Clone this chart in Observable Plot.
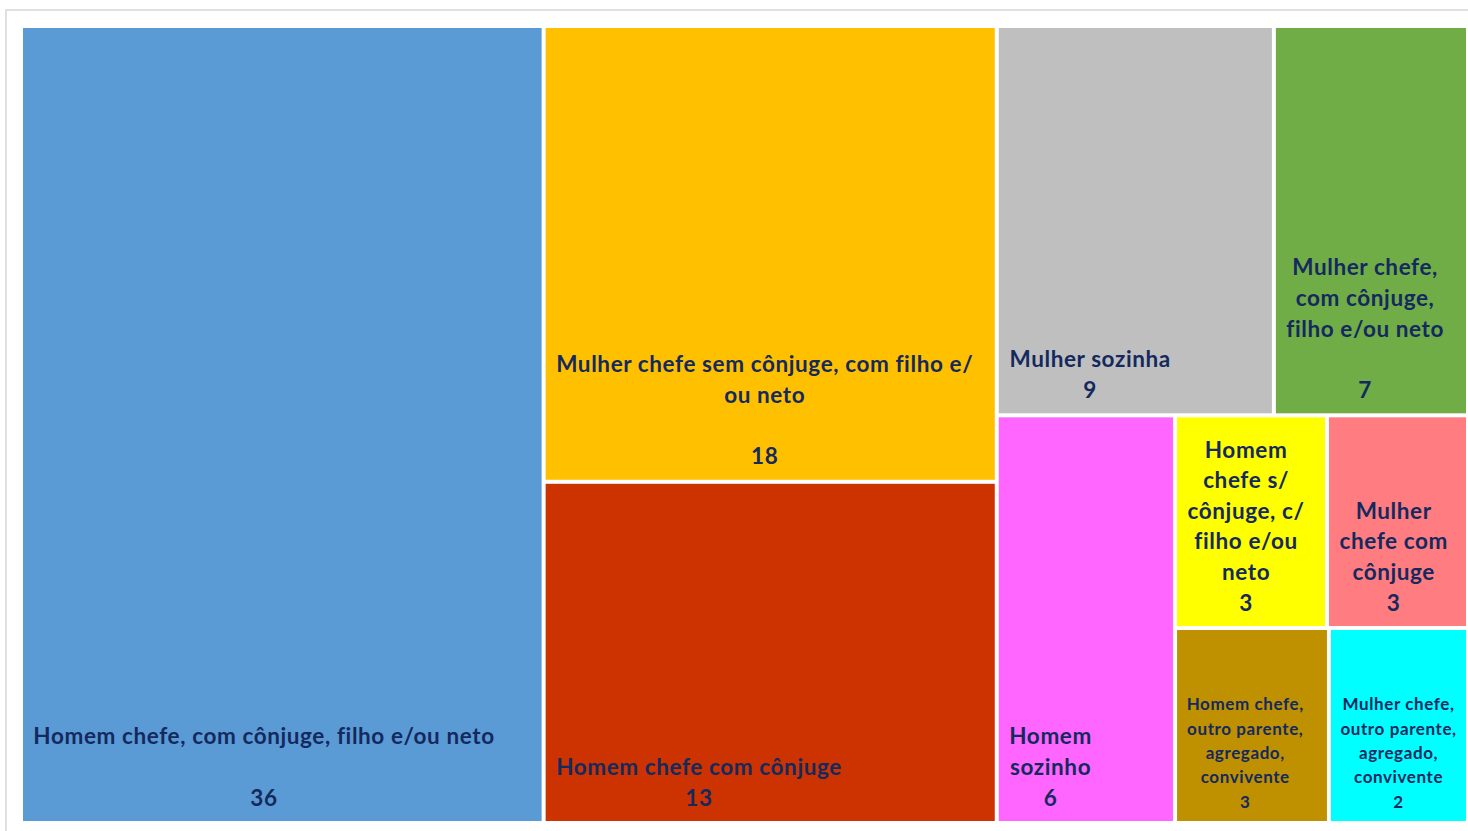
<!DOCTYPE html>
<html><head><meta charset="utf-8">
<script src="https://cdn.jsdelivr.net/npm/d3@7"></script>
<script src="https://cdn.jsdelivr.net/npm/@observablehq/plot@0.6"></script>
<style>
html,body{margin:0;padding:0;background:#fff;overflow:hidden;}
#wrap{position:relative;width:1468px;height:831px;overflow:hidden;}
#border{position:absolute;left:5px;top:9px;width:1500px;height:900px;border-top:2px solid #e0e0e0;border-left:2px solid #e0e0e0;}
#chart{position:absolute;left:0;top:0;}
</style></head><body>
<div id="wrap"><div id="border"></div><div id="chart"></div></div>
<script>
// ---- data ----
const categories = [
  "Homem chefe, com cônjuge, filho e/ou neto",
  "Mulher chefe sem cônjuge, com filho e/ou neto",
  "Homem chefe com cônjuge",
  "Mulher sozinha",
  "Mulher chefe, com cônjuge, filho e/ou neto",
  "Homem sozinho",
  "Homem chefe s/ cônjuge, c/ filho e/ou neto",
  "Mulher chefe com cônjuge",
  "Homem chefe, outro parente, agregado, convivente",
  "Mulher chefe, outro parente, agregado, convivente"
];
// shares (%) estimated from the tile areas; the tiles show them rounded
const values = [36.1, 17.9, 13.4, 9.35, 6.55, 6.3, 2.8, 2.6, 2.6, 2.35];
// wrapped label text as shown in each tile ("\u00a0" = blank line)
const labelLines = [
  ["Homem chefe, com cônjuge, filho e/ou neto", "\u00a0"],
  ["Mulher chefe sem cônjuge, com filho e/", "ou neto", "\u00a0"],
  ["Homem chefe com cônjuge"],
  ["Mulher sozinha"],
  ["Mulher chefe,", "com cônjuge,", "filho e/ou neto", "\u00a0"],
  ["Homem", "sozinho"],
  ["Homem", "chefe s/", "cônjuge, c/", "filho e/ou", "neto"],
  ["Mulher", "chefe com", "cônjuge"],
  ["Homem chefe,", "outro parente,", "agregado,", "convivente"],
  ["Mulher chefe,", "outro parente,", "agregado,", "convivente"]
];
// tile grouping order used by the layout (indices into categories)
const layoutGroups = [[0], [1, 2], [[3, 4], [5, [[6, 7], [8, 9]]]]];
const colors = ["#5B9BD5", "#FFC000", "#CC3300", "#BFBFBF", "#70AD47", "#FF66FF", "#FFFF00", "#FF7C80", "#BF9000", "#00FFFF"];
const smallLabels = [8, 9];

// ---- layout ----
const W = 1443, H = 793;
function toTree(g) { return Array.isArray(g) ? {children: g.map(toTree)} : {index: g, value: values[g]}; }
const root = d3.hierarchy(toTree(layoutGroups)).sum(d => d.children ? 0 : d.value);
const tile = (node, x0, y0, x1, y1) =>
  (x1 - x0 >= y1 - y0 ? d3.treemapDice : d3.treemapSlice)(node, x0, y0, x1, y1);
d3.treemap().tile(tile).size([W, H]).paddingInner(4).round(false)(root);

const ctx = document.createElement("canvas").getContext("2d");
const BIG = {size: 22.5, ls: 0.6, lh: 1.36, dy: -16};
const SMALL = {size: 17, ls: 0.45, lh: 1.43, dy: -14};
const leaves = root.leaves().map(l => {
  const i = l.data.index;
  const small = smallLabels.includes(i);
  const f = small ? SMALL : BIG;
  ctx.font = `bold ${f.size}px Lato`;
  const lines = labelLines[i];
  const bw = d3.max(lines, s => ctx.measureText(s).width + s.length * f.ls);
  return {
    index: i, cat: categories[i], small,
    x0: l.x0, x1: l.x1, y0: l.y0, y1: l.y1,
    tx: l.x0 + 10 + bw / 2,
    text: lines.concat(String(Math.round(values[i]))).join("\n")
  };
});

const textOpts = (f) => ({
  x: "tx", y: "y1", dy: f.dy, text: "text",
  textAnchor: "middle", lineAnchor: "bottom", lineHeight: f.lh, fontSize: f.size,
  fontFamily: "Lato", fontWeight: "bold", fill: "#14295e",
  style: `letter-spacing:${f.ls}px`
});

const chart = Plot.plot({
  width: 1468, height: 831,
  marginLeft: 23, marginRight: 2, marginTop: 28, marginBottom: 10,
  x: {domain: [0, W], axis: null},
  y: {domain: [0, H], range: [28, 821], axis: null},
  color: {domain: categories, range: colors},
  style: {background: "transparent"},
  marks: [
    Plot.rect(leaves, {x1: "x0", x2: "x1", y1: "y0", y2: "y1", fill: "cat"}),
    Plot.text(leaves.filter(d => !d.small), textOpts(BIG)),
    Plot.text(leaves.filter(d => d.small), textOpts(SMALL))
  ]
});
chart.querySelectorAll("text").forEach(t => {
  const small = t.getAttribute("font-size") == String(SMALL.size);
  t.style.letterSpacing = (small ? SMALL.ls : BIG.ls) + "px";
});
document.getElementById("chart").appendChild(chart);
</script>
</body></html>
